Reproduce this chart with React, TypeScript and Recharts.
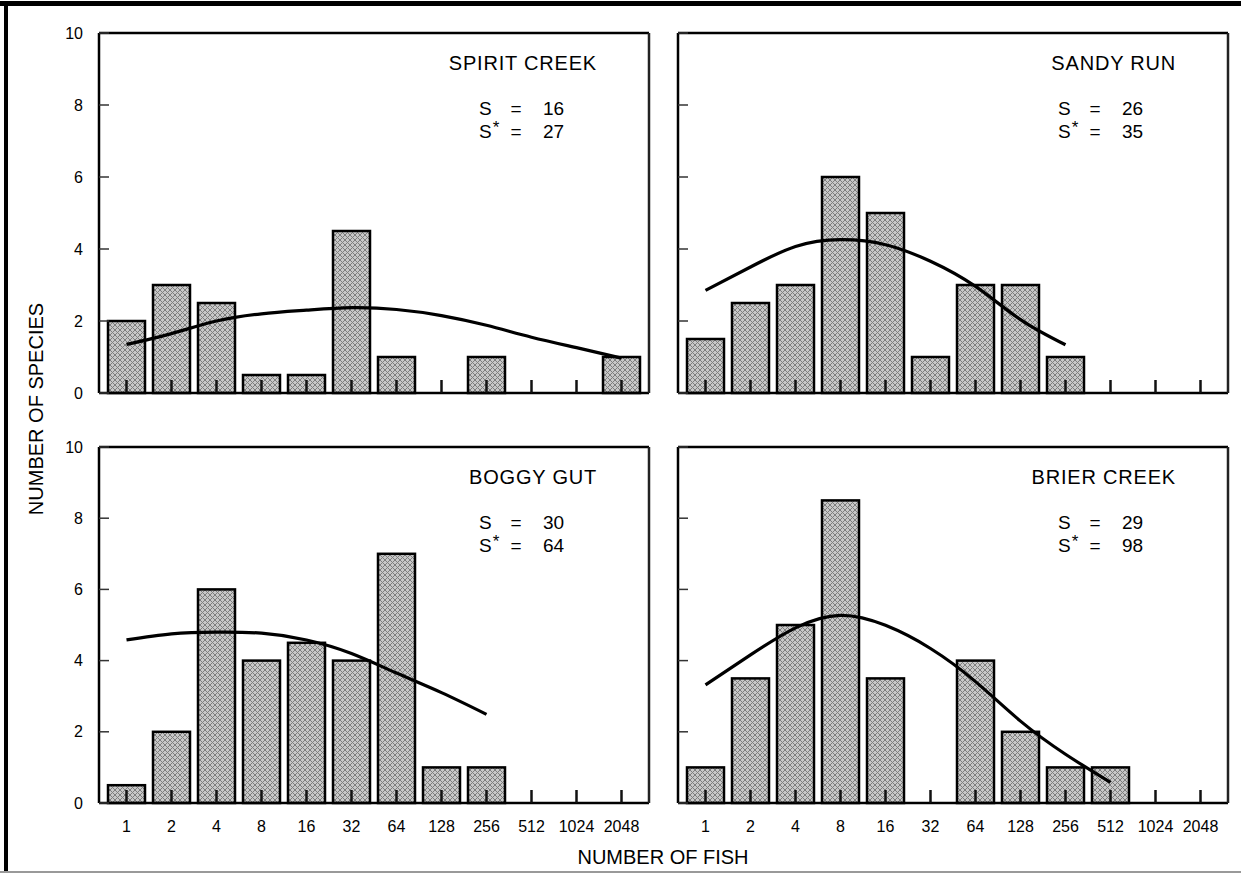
import React from 'react';
import { ComposedChart, Bar, Line, XAxis, YAxis } from 'recharts';

// octave classes (number of fish per species)
const bins = ['1', '2', '4', '8', '16', '32', '64', '128', '256', '512', '1024', '2048'];
const yTicks = [0, 2, 4, 6, 8, 10];

const spiritBars = [2, 3, 2.5, 0.5, 0.5, 4.5, 1, 0, 1, 0, 0, 1];
const spiritCurve = [1.35, 1.65, 2.0, 2.2, 2.3, 2.37, 2.32, 2.15, 1.88, 1.55, 1.26, 0.97];

const sandyBars = [1.5, 2.5, 3, 6, 5, 1, 3, 3, 1, 0, 0, 0];
const sandyCurve = [2.85, 3.5, 4.07, 4.26, 4.12, 3.66, 2.96, 2.04, 1.34, null, null, null];

const boggyBars = [0.5, 2, 6, 4, 4.5, 4, 7, 1, 1, 0, 0, 0];
const boggyCurve = [4.58, 4.75, 4.8, 4.77, 4.58, 4.2, 3.65, 3.1, 2.49, null, null, null];

const brierBars = [1, 3.5, 5, 8.5, 3.5, 0, 4, 2, 1, 1, 0, 0];
const brierCurve = [3.32, 4.16, 4.92, 5.27, 4.99, 4.34, 3.41, 2.3, 1.37, 0.58, null, null];

const font = '"Liberation Sans", Arial, Helvetica, sans-serif';
const blank = () => '';

// inward tick mark on the base line of each class (axis tick)
const TICK_SIZE = 10;
const TICK_MARGIN = 8;
const BaseTick = (props: any) => {
  const { x, y } = props;
  const base = y - TICK_SIZE - TICK_MARGIN;
  return <path d={`M${x},${base - 13}L${x},${base}`} stroke="#111" strokeWidth={2} fill="none" />;
};

// bar with the class tick drawn over its foot
const HatchBar = (props: any) => {
  const { x, y, width, height, fill } = props;
  if (![x, y, width, height].every((v) => typeof v === 'number' && isFinite(v))) return null;
  const cx = x + width / 2;
  const base = y + height;
  return (
    <g>
      {height > 0 && (
        <rect x={x} y={y} width={width} height={height} fill={fill} stroke="#000" strokeWidth={2.5} />
      )}
      <path d={`M${cx},${base - 13}L${cx},${base}`} stroke="#111" strokeWidth={2} fill="none" />
    </g>
  );
};

interface PanelProps {
  id: string;
  bars: number[];
  curve: (number | null)[];
  left: number;
  top: number;
  width: number;
  height: number;
  margin: { top: number; right: number; bottom: number; left: number };
  yWidth: number;
  xHeight: number;
  yLabels: boolean;
  xLabels: boolean;
}

const Panel: React.FC<PanelProps> = ({ id, bars, curve, left, top, width, height, margin, yWidth, xHeight, yLabels, xLabels }) => {
  const data = bins.map((bin, i) => ({ bin, count: bars[i], fit: curve[i] }));
  const frame = { stroke: '#000', strokeWidth: 2.5 };
  const tickLine = { stroke: '#333', strokeWidth: 1.5 };
  return (
    <div style={{ position: 'absolute', left, top }}>
      <ComposedChart width={width} height={height} data={data} margin={margin}>
        <defs>
          <pattern id={`hatch-${id}`} width={5} height={5} patternUnits="userSpaceOnUse">
            <rect width={5} height={5} fill="#c8c8c8" />
            <path d="M0,0 L5,5 M5,0 L0,5" stroke="#7e7e7e" strokeWidth={1} />
          </pattern>
        </defs>
        <Bar
          dataKey="count"
          xAxisId="b"
          yAxisId="l"
          fill={`url(#hatch-${id})`}
          stroke="#000"
          strokeWidth={2.5}
          barSize={37}
          shape={<HatchBar />}
          isAnimationActive={false}
        />
        <Line
          dataKey="fit"
          xAxisId="b"
          yAxisId="l"
          type="natural"
          stroke="#000"
          strokeWidth={3.2}
          dot={false}
          isAnimationActive={false}
        />
        <XAxis
          xAxisId="b"
          dataKey="bin"
          padding={{ left: 5, right: 5 }}
          height={xLabels ? 2 : xHeight}
          interval={0}
          tickSize={TICK_SIZE}
          tickMargin={TICK_MARGIN}
          axisLine={frame}
          tickLine={false}
          tick={<BaseTick />}
        />
        {xLabels && (
          <XAxis
            xAxisId="lab"
            dataKey="bin"
            padding={{ left: 5, right: 5 }}
            height={xHeight - 2}
            interval={0}
            tickSize={10}
            tickMargin={6}
            axisLine={false}
            tickLine={false}
            tick={{ fill: '#000', fontSize: 16, fontFamily: font }}
          />
        )}
        <XAxis xAxisId="t" dataKey="bin" orientation="top" height={3} tick={false} tickLine={false} axisLine={frame} />
        <YAxis
          yAxisId="l"
          domain={[0, 10]}
          ticks={yTicks}
          width={yWidth}
          tickSize={-10}
          tickMargin={26}
          axisLine={frame}
          tickLine={tickLine}
          tick={{ fill: '#000', fontSize: 16, fontFamily: font }}
          tickFormatter={yLabels ? undefined : blank}
        />
        <YAxis
          yAxisId="r"
          orientation="right"
          domain={[0, 10]}
          ticks={yTicks}
          width={5}
          tickSize={-10}
          axisLine={{ stroke: '#222', strokeWidth: 2.5 }}
          tickLine={tickLine}
          tickFormatter={blank}
        />
      </ComposedChart>
    </div>
  );
};

interface LabelProps {
  right: number;
  top: number;
  title: string;
  s: number;
  sStar: number;
}

const PanelText: React.FC<LabelProps> = ({ right, top, title, s, sStar }) => {
  const sx = right - 170;
  const b1 = top + 82;
  const b2 = top + 105;
  return (
    <g fill="#000" fontFamily={font}>
      <text x={right - 52} y={top + 37} textAnchor="end" fontSize={20} letterSpacing={0.8}>
        {title}
      </text>
      <text x={sx} y={b1} fontSize={19}>S</text>
      <text x={right - 133} y={b1} fontSize={19} textAnchor="middle">=</text>
      <text x={right - 106} y={b1} fontSize={19}>{s}</text>
      <text x={sx} y={b2} fontSize={19}>
        S<tspan dx={1} dy={-5} fontSize={17}>*</tspan>
      </text>
      <text x={right - 133} y={b2} fontSize={19} textAnchor="middle">=</text>
      <text x={right - 106} y={b2} fontSize={19}>{sStar}</text>
    </g>
  );
};

const App: React.FC = () => {
  const leftCol = { left: 20, width: 640, margin: { left: 19, right: 6 }, yWidth: 60 };
  const rightCol = { left: 660, width: 579, margin: { left: 8, right: 6 }, yWidth: 10 };
  const topRow = { top: 0, height: 423, margin: { top: 30, bottom: 0 }, xHeight: 30 };
  const botRow = { top: 430, height: 413, margin: { top: 14, bottom: 0 }, xHeight: 40 };

  return (
    <div
      style={{
        position: 'absolute',
        left: 0,
        top: 0,
        width: 1241,
        height: 876,
        background: '#fff',
        overflow: 'hidden',
        fontFamily: font,
      }}
    >
      <Panel
        id="spirit"
        bars={spiritBars}
        curve={spiritCurve}
        left={leftCol.left}
        top={topRow.top}
        width={leftCol.width}
        height={topRow.height}
        margin={{ ...leftCol.margin, ...topRow.margin }}
        yWidth={leftCol.yWidth}
        xHeight={topRow.xHeight}
        yLabels
        xLabels={false}
      />
      <Panel
        id="sandy"
        bars={sandyBars}
        curve={sandyCurve}
        left={rightCol.left}
        top={topRow.top}
        width={rightCol.width}
        height={topRow.height}
        margin={{ ...rightCol.margin, ...topRow.margin }}
        yWidth={rightCol.yWidth}
        xHeight={topRow.xHeight}
        yLabels={false}
        xLabels={false}
      />
      <Panel
        id="boggy"
        bars={boggyBars}
        curve={boggyCurve}
        left={leftCol.left}
        top={botRow.top}
        width={leftCol.width}
        height={botRow.height}
        margin={{ ...leftCol.margin, ...botRow.margin }}
        yWidth={leftCol.yWidth}
        xHeight={botRow.xHeight}
        yLabels
        xLabels
      />
      <Panel
        id="brier"
        bars={brierBars}
        curve={brierCurve}
        left={rightCol.left}
        top={botRow.top}
        width={rightCol.width}
        height={botRow.height}
        margin={{ ...rightCol.margin, ...botRow.margin }}
        yWidth={rightCol.yWidth}
        xHeight={botRow.xHeight}
        yLabels={false}
        xLabels
      />

      <svg width={1241} height={876} style={{ position: 'absolute', left: 0, top: 0, pointerEvents: 'none' }}>
        <PanelText right={649} top={33} title="SPIRIT CREEK" s={16} sStar={27} />
        <PanelText right={1228} top={33} title="SANDY RUN" s={26} sStar={35} />
        <PanelText right={649} top={447} title="BOGGY GUT" s={30} sStar={64} />
        <PanelText right={1228} top={447} title="BRIER CREEK" s={29} sStar={98} />
        <text
          transform="translate(36,409) rotate(-90)"
          textAnchor="middle"
          dominantBaseline="central"
          fontSize={20}
          fontFamily={font}
          fill="#000"
        >
          NUMBER OF SPECIES
        </text>
        <text x={663} y={864} textAnchor="middle" fontSize={20} fontFamily={font} fill="#000">
          NUMBER OF FISH
        </text>
      </svg>

      {/* scan frame */}
      <div style={{ position: 'absolute', left: 0, top: 1, width: 1241, height: 5, background: '#000' }} />
      <div style={{ position: 'absolute', left: 4, top: 1, width: 4, height: 871, background: '#000' }} />
      <div style={{ position: 'absolute', left: 0, top: 871, width: 1241, height: 2, background: '#999' }} />
    </div>
  );
};

export default App;
